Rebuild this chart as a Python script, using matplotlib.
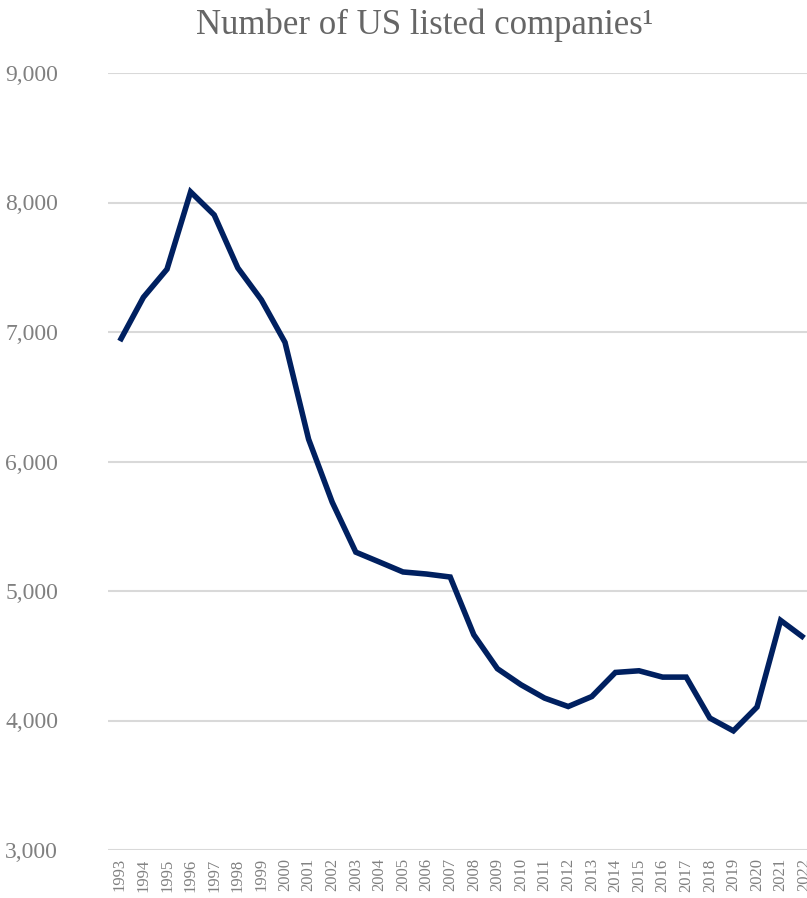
import matplotlib.pyplot as plt

years = list(range(1993, 2023))
companies = [6930, 7268, 7485, 8082, 7904, 7495, 7248, 6920, 6172, 5686,
             5300, 5224, 5147, 5131, 5108, 4662, 4400, 4276, 4173, 4108,
             4185, 4371, 4384, 4335, 4335, 4019, 3920, 4104, 4773, 4637]
y_ticks = [3000, 4000, 5000, 6000, 7000, 8000, 9000]

plt.rcParams['font.family'] = ['Liberation Serif', 'DejaVu Serif']

fig = plt.figure(figsize=(8.07, 8.98), dpi=100)
ax = fig.add_axes([108 / 807, 48 / 898, 708 / 807, 777 / 898])

ax.plot(years, companies, color='#002060', linewidth=4.0, solid_joinstyle='miter',
        solid_capstyle='butt', zorder=3)

ax.set_xlim(1992.5, 2022.5)
ax.set_ylim(3000, 9000)
ax.set_yticks(y_ticks)
ax.set_yticklabels([f"{v:,}" for v in y_ticks], fontsize=17, color='#808080')
ax.set_xticks(years)
ax.set_xticklabels([str(y) for y in years], rotation=90, fontsize=12, color='#808080')
ax.tick_params(length=0)
ax.tick_params(axis='y', pad=74)
ax.tick_params(axis='x', pad=6)
for lbl in ax.get_yticklabels():
    lbl.set_horizontalalignment('left')

ax.grid(axis='y', color='#d9d9d9', linewidth=1.5)
ax.set_axisbelow(True)
for s in ax.spines.values():
    s.set_visible(False)

fig.text(425 / 807, 1 - 25 / 898, "Number of US listed companies\u00b9",
         ha='center', va='center', fontsize=25, color='#666666')

fig.savefig("out.png", dpi=100)
